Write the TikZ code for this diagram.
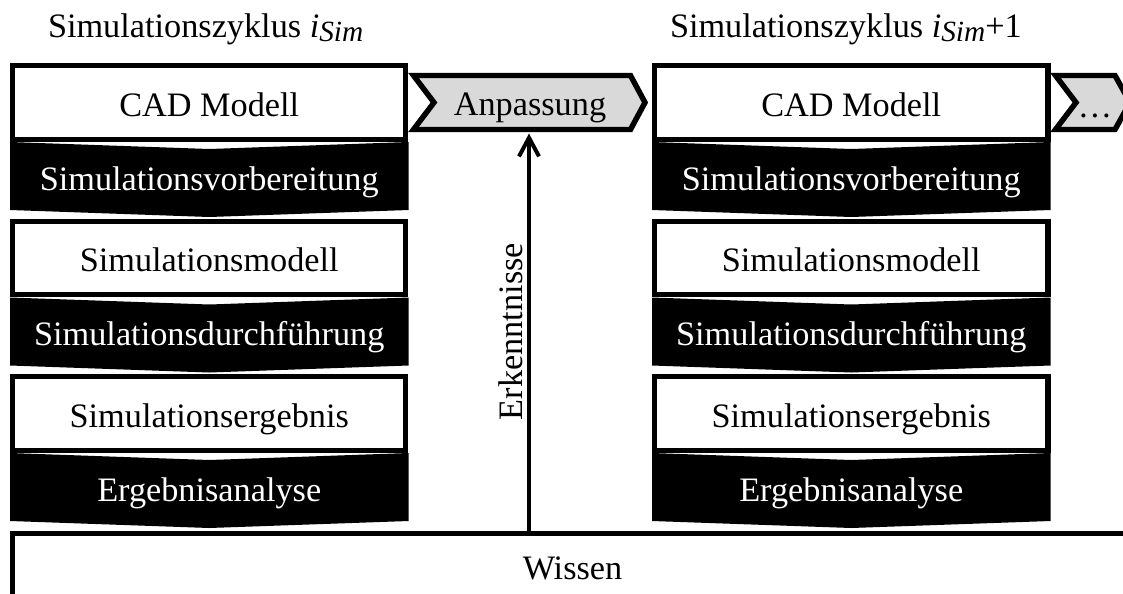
\documentclass[tikz,border=0pt]{standalone}
\usepackage{fontspec}
\setmainfont{Liberation Serif}
\usetikzlibrary{arrows.meta}
\definecolor{stepgray}{RGB}{217,217,217}

% cycle index i_Sim
\newcommand{\cycleidx}{\textit{i}\raisebox{-3.5pt}{\fontsize{22}{24}\selectfont\textit{Sim}}}

\begin{document}
\begin{tikzpicture}[x=0.75pt,y=-0.75pt,
  every node/.style={font=\fontsize{25.7}{30}\selectfont, inner sep=0pt, outer sep=0pt},
  boxframe/.style={draw=black, line width=4.1pt, fill=white},
  stepframe/.style={draw=black, line width=4.1pt, line join=miter, fill=stepgray},
  taskchevron/.style={fill=black},
  uptext/.style={anchor=base, text=black},
  dntext/.style={anchor=base, text=white},
  knowarrow/.style={line width=3pt, -{Straight Barb[length=14pt,width=15pt,line width=3pt]}}]

\useasboundingbox (0,0) rectangle (1123,593);
\clip (0,0) rectangle (1123,593);

% column titles
\node[anchor=base west] (title1) at (48,37) {Simulationszyklus \cycleidx};
\node[anchor=base west] (title2) at (670,37) {Simulationszyklus \cycleidx+1};

% two simulation cycles, three stages each
\foreach \c/\L in {1/10, 2/652} {
  \foreach \r/\up/\dn in {0/{CAD Modell}/Simulationsvorbereitung,
                          1/Simulationsmodell/Simulationsdurchführung,
                          2/Simulationsergebnis/Ergebnisanalyse} {
    \pgfmathsetmacro\T{63+155.5*\r}
    \pgfmathsetmacro\R{\L+398.5}
    \pgfmathsetmacro\M{\L+199.25}
    \draw[boxframe] ({\L+2.75},{\T+2.75}) rectangle ({\R-2.75},{\T+79-2.75});
    \fill[taskchevron] (\L,{\T+79}) -- (\M,{\T+86}) -- (\R,{\T+79})
        -- (\R,{\T+147}) -- (\M,{\T+154}) -- (\L,{\T+147}) -- cycle;
    \node[uptext] (up-\c-\r) at (\M,{\T+53}) {\up};
    \node[dntext] (dn-\c-\r) at (\M,{\T+127}) {\dn};
  }
}

% adaptation step between the cycles
\draw[stepframe] (413.5,75.5) -- (630.5,75.5) -- (645,102.5) -- (630.5,129.5)
    -- (413.5,129.5) -- (434,102.5) -- cycle;
\node[anchor=base] (anp) at (530,115.5) {Anpassung};
\coordinate (anp-s) at (529,133.5);

% following step
\draw[stepframe] (1055.5,75.5) -- (1115,75.5) -- (1130,102.5) -- (1115,129.5)
    -- (1055.5,129.5) -- (1076,102.5) -- cycle;
\node[anchor=base] (more) at (1095,117.5) {…};

% knowledge base
\draw[black, line width=4.1pt] (12.75,620) -- (12.75,533.75) -- (1140,533.75);
\node[anchor=base] (wissen) at (572.5,579) {Wissen};
\coordinate (wissen-n) at (529,533.75);

% insights feed back into the adaptation
\draw[knowarrow] (wissen-n) -- (anp-s);
\node[anchor=base, rotate=90] (insight) at (522,331.5) {Erkenntnisse};

\end{tikzpicture}
\end{document}
